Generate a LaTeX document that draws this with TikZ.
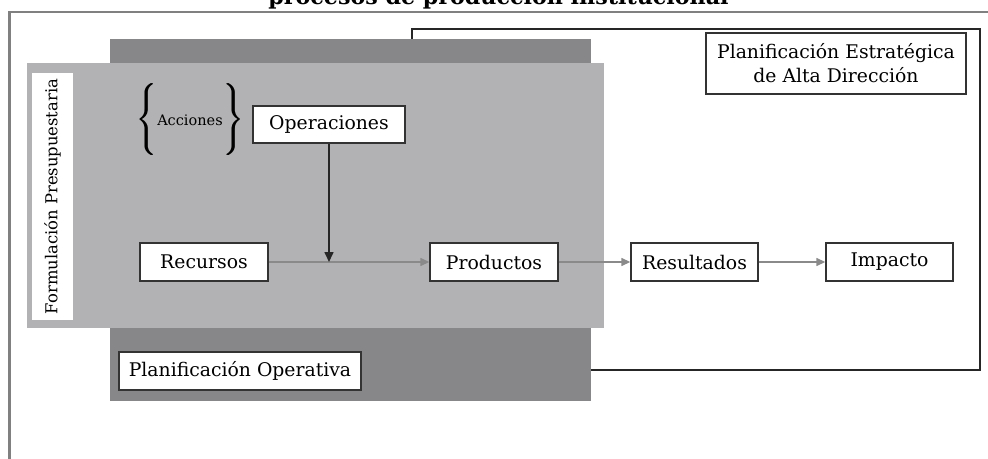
\documentclass[tikz,border=0pt]{standalone}
\usepackage{graphicx}
\usepackage{fontspec}
\setmainfont{DejaVu Serif}
\usetikzlibrary{arrows.meta}
\definecolor{darkg}{HTML}{878789}
\definecolor{lightg}{HTML}{B2B2B4}
\definecolor{lineg}{HTML}{8A8A8A}
\newcommand{\bigbrace}[1]{\vcenter{\hbox{\rlap{\scalebox{2.4}{$\Bigg#1$}}\kern0.8pt\scalebox{2.4}{$\Bigg#1$}}}}
\tikzset{
  box/.style={draw=black!80, line width=1.4pt, fill=white, inner sep=2pt,
    font=\fontsize{18.8}{22}\selectfont, minimum height=38pt},
  grayarrow/.style={draw=lineg, line width=1.4pt, -{Triangle[length=9pt,width=8pt]}},
  blackarrow/.style={draw=black!85, line width=1.6pt, -{Triangle[length=10pt,width=9pt]}},
}
\begin{document}
\begin{tikzpicture}[x=1pt,y=-1pt]
\useasboundingbox (0,0) rectangle (988,458);
% title (clipped at top, as in the reference)
\node[anchor=base, font=\fontsize{22.2}{26}\selectfont\bfseries, inner sep=0pt] (title) at (498.5,4) {procesos de producción institucional};
% outer frame
\draw[draw=black!50, line width=2.5pt] (9.5,12) rectangle (1005,480);
% strategic frame
\draw[draw=black!85, line width=1.3pt] (412,29) rectangle (980,370);
% grey layers
\fill[darkg] (110,39) rectangle (591,401);
\fill[lightg] (27,63) rectangle (604,328);
% nodes
\node[box, minimum width=247pt, minimum height=41pt, rotate=90, font=\fontsize{16.4}{20}\selectfont, draw=none] (fp) at (52.5,196.5) {Formulación Presupuestaria};
\node[inner sep=0pt, font=\fontsize{14.5}{16}\selectfont] (acc) at (190,120) {$\bigbrace\{\mkern1mu\vcenter{\hbox{Acciones}}\mkern1mu\bigbrace\}$};
\node[box, minimum width=152pt, minimum height=37pt] (ope) at (329,124.5) {Operaciones};
\node[box, minimum width=128pt] (rec) at (204,262) {Recursos};
\node[box, minimum width=128pt] (prod) at (494,262) {Productos};
\node[box, minimum width=127pt] (res) at (694.5,262) {Resultados};
\node[box, minimum width=127pt] (imp) at (889.5,262) {Impacto};
\node[box, minimum width=260pt, minimum height=61pt, align=center, font=\fontsize{18.8}{24}\selectfont] (pe) at (836,63.5) {Planificación Estratégica\\de Alta Dirección};
\node[box, minimum width=242pt, minimum height=38pt] (po) at (240,371) {Planificación Operativa};
% connectors
\coordinate (j) at (ope.south |- rec.east);
\draw[grayarrow] (rec) -- (prod);
\draw[blackarrow] (ope) -- (j);
\draw[grayarrow] (prod) -- (res);
\draw[grayarrow] (res) -- (imp);
\end{tikzpicture}
\end{document}
